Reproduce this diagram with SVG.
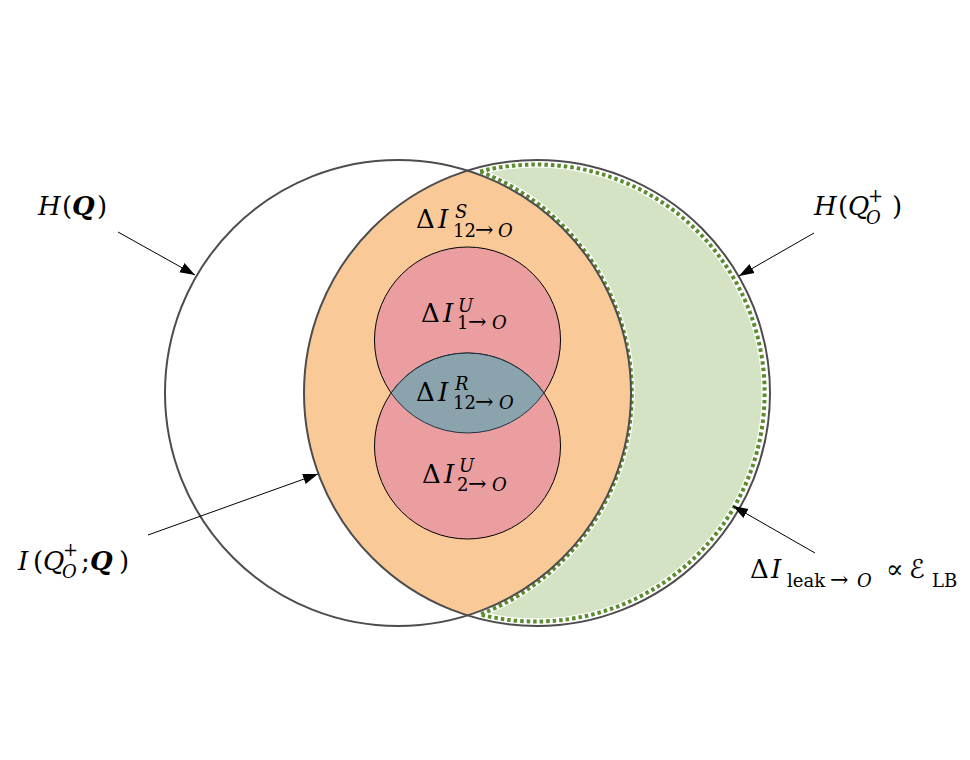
<svg xmlns="http://www.w3.org/2000/svg" width="970" height="760" viewBox="0 0 970 760">
<defs>
<style>
.t{font-family:"DejaVu Serif","Liberation Serif",serif;fill:#000}
.m{font-size:26px}
.s{font-size:18px}
.a{font-size:22px}
.i{font-style:italic}
.b{font-weight:bold;font-style:italic}
.cal{font-family:"DejaVu Sans","Noto Sans",sans-serif;font-style:italic}
.outline{fill:none;stroke:#4d4d4d;stroke-width:2}
.conn{stroke:#000;stroke-width:1;fill:none}
</style>
<marker id="ah" viewBox="0 0 10 10" refX="10" refY="5" markerWidth="15" markerHeight="15" markerUnits="userSpaceOnUse" orient="auto">
<path d="M0,1.5 L10,5 L0,8.5 Z" fill="#000"/>
</marker>
</defs>
<rect width="970" height="760" fill="#fff"/>

<g id="leak-region">
<path d="M480,171.5 A228.5,228.5 0 1 1 480,614.5 A237.5,237.5 0 0 0 480,171.5 Z" fill="#d5e3c5" stroke="#fff" stroke-width="6"/>
<path d="M480,171.5 A228.5,228.5 0 1 1 480,614.5 A237.5,237.5 0 0 0 480,171.5 Z" fill="none" stroke="#5b8c2e" stroke-width="4" stroke-dasharray="3.5 3"/>
</g>

<g id="mutual-info">
<path d="M467.5,170.6 A233,233 0 0 1 467.5,615.4 A233,233 0 0 1 467.5,170.6 Z" fill="#f9ca98"/>
</g>

<g id="unique-1">
<circle cx="467.5" cy="340" r="93" fill="#eb9e9f" stroke="#000" stroke-width="1"/>
</g>
<g id="unique-2">
<circle cx="467.5" cy="446" r="93" fill="#eb9e9f" stroke="#000" stroke-width="1"/>
</g>
<g id="redundant">
<path d="M391.1,393 A93,93 0 0 1 543.9,393 A93,93 0 0 1 391.1,393 Z" fill="#8ba3ad" stroke="#1c3445" stroke-width="1"/>
</g>

<g id="H-Q">
<circle cx="398" cy="393" r="233" class="outline"/>
</g>
<g id="H-QO">
<circle cx="537" cy="393" r="233" class="outline"/>
</g>

<g id="labels">
<text class="t m"><tspan x="416" y="228">Δ</tspan><tspan x="438" y="228" class="i">I</tspan><tspan x="455" y="218" class="s i">S</tspan><tspan x="453" y="237" class="s">12</tspan><tspan x="475" y="237" class="a">→</tspan><tspan x="498" y="237" class="s i">O</tspan></text>
<text class="t m"><tspan x="421" y="322">Δ</tspan><tspan x="443" y="322" class="i">I</tspan><tspan x="458" y="312" class="s i">U</tspan><tspan x="457" y="329" class="s">1</tspan><tspan x="468" y="329" class="a">→</tspan><tspan x="492" y="329" class="s i">O</tspan></text>
<text class="t m"><tspan x="416" y="401">Δ</tspan><tspan x="438" y="401" class="i">I</tspan><tspan x="455" y="390" class="s i">R</tspan><tspan x="453" y="409" class="s">12</tspan><tspan x="475" y="409" class="a">→</tspan><tspan x="499" y="409" class="s i">O</tspan></text>
<text class="t m"><tspan x="422" y="483">Δ</tspan><tspan x="444" y="483" class="i">I</tspan><tspan x="459" y="472" class="s i">U</tspan><tspan x="457" y="491" class="s">2</tspan><tspan x="468" y="491" class="a">→</tspan><tspan x="492" y="491" class="s i">O</tspan></text>
</g>

<g id="label-HQ">
<text class="t m"><tspan x="38" y="215" class="i">H</tspan><tspan x="62" y="215">(</tspan><tspan x="72" y="215" class="b">Q</tspan><tspan x="97" y="215">)</tspan></text>
</g>
<g id="label-HQO">
<text class="t m"><tspan x="814" y="215" class="i">H</tspan><tspan x="838" y="215">(</tspan><tspan x="848" y="215" class="i">Q</tspan><tspan x="868" y="202" class="s">+</tspan><tspan x="866" y="224" class="s i">O</tspan><tspan x="892" y="215">)</tspan></text>
</g>
<g id="label-I">
<text class="t m"><tspan x="18" y="570" class="i">I</tspan><tspan x="33" y="570">(</tspan><tspan x="43" y="570" class="i">Q</tspan><tspan x="63" y="556" class="s">+</tspan><tspan x="62" y="578" class="s i">O</tspan><tspan x="81" y="570">;</tspan><tspan x="90" y="570" class="b">Q</tspan><tspan x="119" y="570">)</tspan></text>
</g>
<g id="label-leak">
<text class="t m"><tspan x="750" y="578">Δ</tspan><tspan x="771" y="578" class="i">I</tspan><tspan x="787" y="587" class="s">leak</tspan><tspan x="830" y="587" class="a">→</tspan><tspan x="857" y="587" class="s i">O</tspan><tspan x="886" y="578">∝</tspan><tspan x="909" y="578" class="cal">ℰ</tspan><tspan x="932" y="587" class="s">LB</tspan></text>
</g>

<g id="connectors">
<line x1="118" y1="232" x2="195" y2="275" class="conn" marker-end="url(#ah)"/>
<line x1="814" y1="233" x2="739" y2="276" class="conn" marker-end="url(#ah)"/>
<line x1="148" y1="535" x2="318" y2="474" class="conn" marker-end="url(#ah)"/>
<line x1="815" y1="553" x2="733" y2="506" class="conn" marker-end="url(#ah)"/>
</g>
</svg>
